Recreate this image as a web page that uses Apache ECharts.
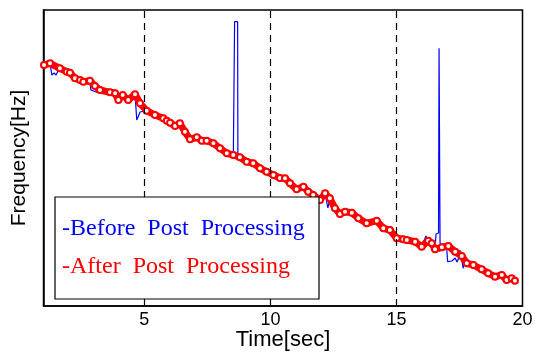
<!DOCTYPE html>
<html>
<head>
<meta charset="utf-8">
<script src="https://cdn.jsdelivr.net/npm/echarts@6/dist/echarts.min.js"></script>
<style>
html,body{margin:0;padding:0;background:#fff;}
#chart{width:542px;height:352px;}
</style>
</head>
<body>
<div id="chart"></div>
<script>
// Time [sec] of the processed (red) track
const afterTime = [1.02,1.26,1.65,1.92,2.05,2.25,2.45,2.58,2.84,3.04,3.24,3.64,3.84,3.97,4.14,4.36,4.63,4.83,5.09,5.42,5.75,5.89,6.02,6.22,6.41,6.61,6.81,7.08,7.28,7.47,7.74,8.00,8.27,8.53,8.79,9.06,9.32,9.59,9.85,10.12,10.38,10.58,10.78,11.04,11.31,11.50,11.70,11.97,12.17,12.36,12.56,12.76,12.96,13.23,13.49,13.82,14.22,14.48,14.74,15.01,15.27,15.41,15.74,16.00,16.26,16.40,16.53,16.80,17.06,17.33,17.59,17.79,18.05,18.38,18.64,18.91,19.18,19.37,19.57,19.70];
// Frequency (relative units) of the processed (red) track
const afterFreq = [241,242.7,237.7,234.3,233.3,227.7,226,224.3,225.3,220,216,213.7,212.7,206,211,206,211.7,202.7,195.3,191,187.7,185.3,183.3,180,182.7,174.3,166.7,168.7,165.3,165.3,162.7,157.7,152.7,151,148.7,144.3,142.7,137.7,134.3,131,128,127.7,122.7,116.7,119.3,114.3,111,106,112.7,107.7,97.7,92,94.3,93.3,87.7,82.7,85.3,77.7,76,67.7,66.7,66,64.3,59.3,65.3,62.7,56.7,58.7,60,54.3,50,42.7,41,36.7,32.7,29.3,31,26,27.7,25.3];
// Raw (blue) track, with glitches and spikes
const beforeTime = [1.02,1.26,1.33,1.42,1.50,1.59,1.65,1.92,2.05,2.25,2.45,2.58,2.84,2.88,3.11,3.24,3.64,3.84,3.97,4.14,4.36,4.63,4.70,4.83,5.09,5.42,5.75,5.89,6.02,6.22,6.41,6.61,6.81,7.08,7.28,7.47,7.74,8.00,8.27,8.53,8.57,8.58,8.70,8.71,8.79,9.06,9.32,9.59,9.85,10.12,10.38,10.58,10.78,11.04,11.31,11.50,11.70,11.97,12.17,12.28,12.36,12.56,12.76,12.96,13.23,13.49,13.82,14.22,14.48,14.74,15.01,15.27,15.41,15.74,16.00,16.17,16.26,16.40,16.53,16.57,16.67,16.69,16.73,16.80,16.99,17.03,17.20,17.33,17.40,17.45,17.52,17.65,17.70,17.79,18.05,18.38,18.64,18.91,19.18,19.37,19.57,19.70];
const beforeFreq = [241,242.7,231,233,231,236,237.7,234.3,233.3,227.7,226,224.3,225.3,216,213.7,216,213.7,212.7,206,211,206,211.7,186,194,195.3,191,187.7,185.3,183.3,180,182.7,174.3,166.7,168.7,165.3,165.3,162.7,157.7,152.7,151,153,284.3,284.3,150,148.7,144.3,142.7,137.7,134.3,131,128,127.7,122.7,116.7,119.3,114.3,111,106,112.7,98,107.7,97.7,92,94.3,93.3,87.7,82.7,85.3,77.7,76,67.7,66.7,66,64.3,59.3,70,65.3,62.7,56.7,72,73,257.7,63,58.7,59,44.3,45,48,44,46.7,56,37.7,48,42.7,41,36.7,32.7,29.3,31,26,27.7,25.3];
const xTicks = [5,10,15,20];
const dashedAt = [5,10,15];
const legendItems = ['-Before  Post  Processing','-After  Post  Processing'];

const zip = (a,b) => a.map((v,i) => [v,b[i]]);
const chart = echarts.init(document.getElementById('chart'), null, {renderer:'canvas'});
chart.setOption({
  animation:false,
  backgroundColor:'#fff',
  grid:{left:43.5,right:19.5,top:10,bottom:46,show:true,borderColor:'#000',borderWidth:1.5,outerBoundsMode:'none'},
  xAxis:{
    type:'value',min:1,max:20,
    name:'Time[sec]',nameLocation:'middle',nameGap:23,nameMoveOverlap:false,
    nameTextStyle:{fontFamily:'Liberation Sans',fontSize:22,color:'#000'},
    axisLine:{show:true,onZero:false,lineStyle:{color:'#000',width:1.5}},
    axisTick:{show:true,inside:true,length:6,customValues:xTicks,lineStyle:{color:'#000',width:1}},
    axisLabel:{show:true,customValues:xTicks,margin:5,fontFamily:'Liberation Sans',fontSize:18,color:'#000'},
    splitLine:{show:false}
  },
  yAxis:{
    type:'value',min:0,max:296,
    name:'Frequency[Hz]',nameLocation:'middle',nameGap:14,nameMoveOverlap:false,
    nameTextStyle:{fontFamily:'Liberation Sans',fontSize:21,color:'#000'},
    axisLine:{show:true,onZero:false,lineStyle:{color:'#000',width:1.5}},
    axisTick:{show:false},axisLabel:{show:false},splitLine:{show:false}
  },
  series:[
    {
      type:'line',data:zip(beforeTime,beforeFreq),showSymbol:false,symbol:'none',
      lineStyle:{color:'#0000ff',width:1.2},z:2,
      markLine:{silent:true,symbol:'none',label:{show:false},
        lineStyle:{color:'#000',type:[7,5],width:1.2},
        data:dashedAt.map(v=>({xAxis:v}))}
    },
    {
      type:'line',data:zip(afterTime,afterFreq),symbol:'emptyCircle',symbolSize:6,
      itemStyle:{color:'#ff0000',borderColor:'#ff0000',borderWidth:3},
      lineStyle:{color:'#ff0000',width:7},z:3
    }
  ],
  graphic:[
    {type:'rect',z:100,shape:{x:55,y:197,width:264,height:102},style:{fill:'#fff',stroke:'#000',lineWidth:1.2}},
    {type:'text',z:101,x:62,y:229,style:{text:legendItems[0],fill:'#0000ff',font:'24px "Liberation Serif"',verticalAlign:'middle',align:'left'}},
    {type:'text',z:101,x:62,y:267,style:{text:legendItems[1],fill:'#ff0000',font:'24px "Liberation Serif"',verticalAlign:'middle',align:'left'}}
  ]
});
</script>
</body>
</html>
